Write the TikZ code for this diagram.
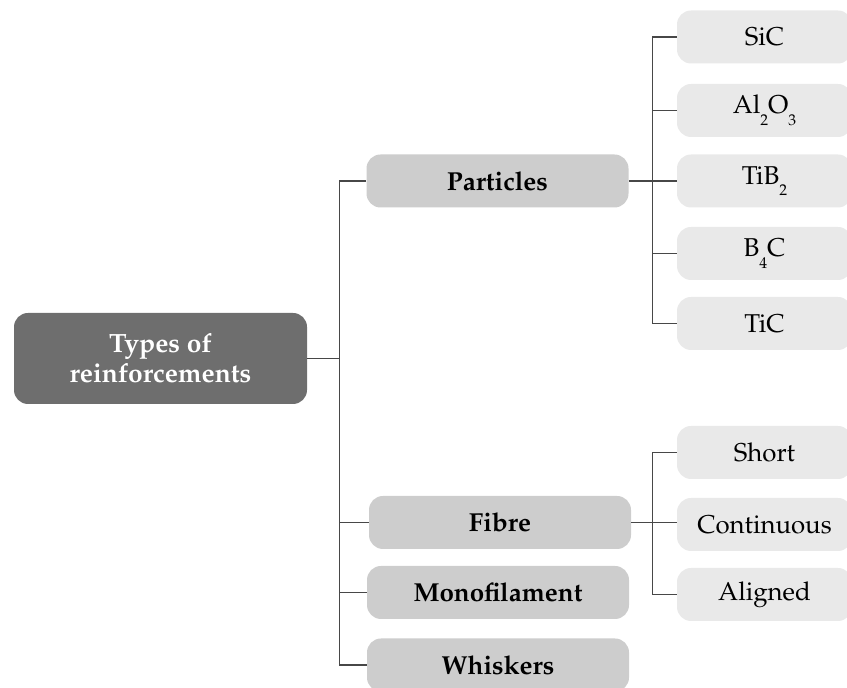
\documentclass[tikz,border=0pt]{standalone}
\usepackage[T1]{fontenc}
\usepackage{mathpazo}
\usepackage{tikz}
\usetikzlibrary{calc,positioning}
\definecolor{darkbox}{HTML}{6E6E6E}
\definecolor{midbox}{HTML}{CDCDCD}
\definecolor{lightbox}{HTML}{E9E9E9}
\definecolor{linegray}{HTML}{474747}
\newcommand{\chemsub}[1]{\raisebox{-0.45em}{\fontsize{7.8}{8}\selectfont #1}}

\begin{document}
\begin{tikzpicture}[x=0.5pt,y=-0.5pt,
    rootbox/.style={fill=darkbox,text=white,font=\fontsize{13.2}{15}\selectfont\bfseries,
      rounded corners=7pt,minimum width=146.5pt,minimum height=45.5pt,align=center,inner sep=0pt},
    catbox/.style={fill=midbox,font=\fontsize{13}{15}\selectfont\bfseries,
      rounded corners=7pt,minimum width=131pt,minimum height=26.5pt,inner sep=0pt},
    itembox/.style={fill=lightbox,font=\fontsize{12.9}{15}\selectfont,
      rounded corners=7pt,minimum width=87.5pt,minimum height=26.5pt,inner sep=0pt},
    conn/.style={draw=linegray,line width=0.6pt}]
    \useasboundingbox (0,0) rectangle (847,688);
    \clip (0,0) rectangle (847,688);
    % main box
    \node[rootbox] (root) at (160.5,358.5) {Types of\\reinforcements};
    % categories
    \node[catbox] (parts) at (497.5,181) {Particles};
    \node[catbox] (fibre) at (500,522.5) {Fibre};
    \node[catbox] (mono) at (498,592.5) {Monofilament};
    \node[catbox] (whisk) at (498,665) {Whiskers};
    % particle kinds
    \node[itembox] (sic) at (764.5,37) {SiC};
    \node[itembox] (alo) at (764.5,110.5) {Al\chemsub{2}O\chemsub{3}};
    \node[itembox] (tib) at (764.5,181) {TiB\chemsub{2}};
    \node[itembox] (bc) at (764.5,253.5) {B\chemsub{4}C};
    \node[itembox] (tic) at (764.5,323.5) {TiC};
    % fibre kinds
    \node[itembox] (short) at (764.5,452.5) {Short};
    \node[itembox] (cont) at (764.5,524.5) {Continuous};
    \node[itembox] (align) at (764.5,594.5) {Aligned};
    % trunks
    \coordinate (trunk) at (339.5,0);
    \coordinate (subp) at (652.5,0);
    \draw[conn] (parts.west) -- (parts.west -| trunk) |- (whisk.west);
    \foreach \n in {root.east,fibre.west,mono.west}
      \draw[conn] (\n) -- (\n -| trunk);
    \draw[conn] (sic.west) -- (sic.west -| subp) |- (tic.west);
    \foreach \n in {alo,bc}
      \draw[conn] (\n.west) -- (\n.west -| subp);
    \draw[conn] (parts.east) -- (tib.west);
    \draw[conn] (short.west) -- (short.west -| subp) |- (align.west);
    \draw[conn] (fibre.east) -- (fibre.east -| cont.west);
  \end{tikzpicture}
\end{document}
